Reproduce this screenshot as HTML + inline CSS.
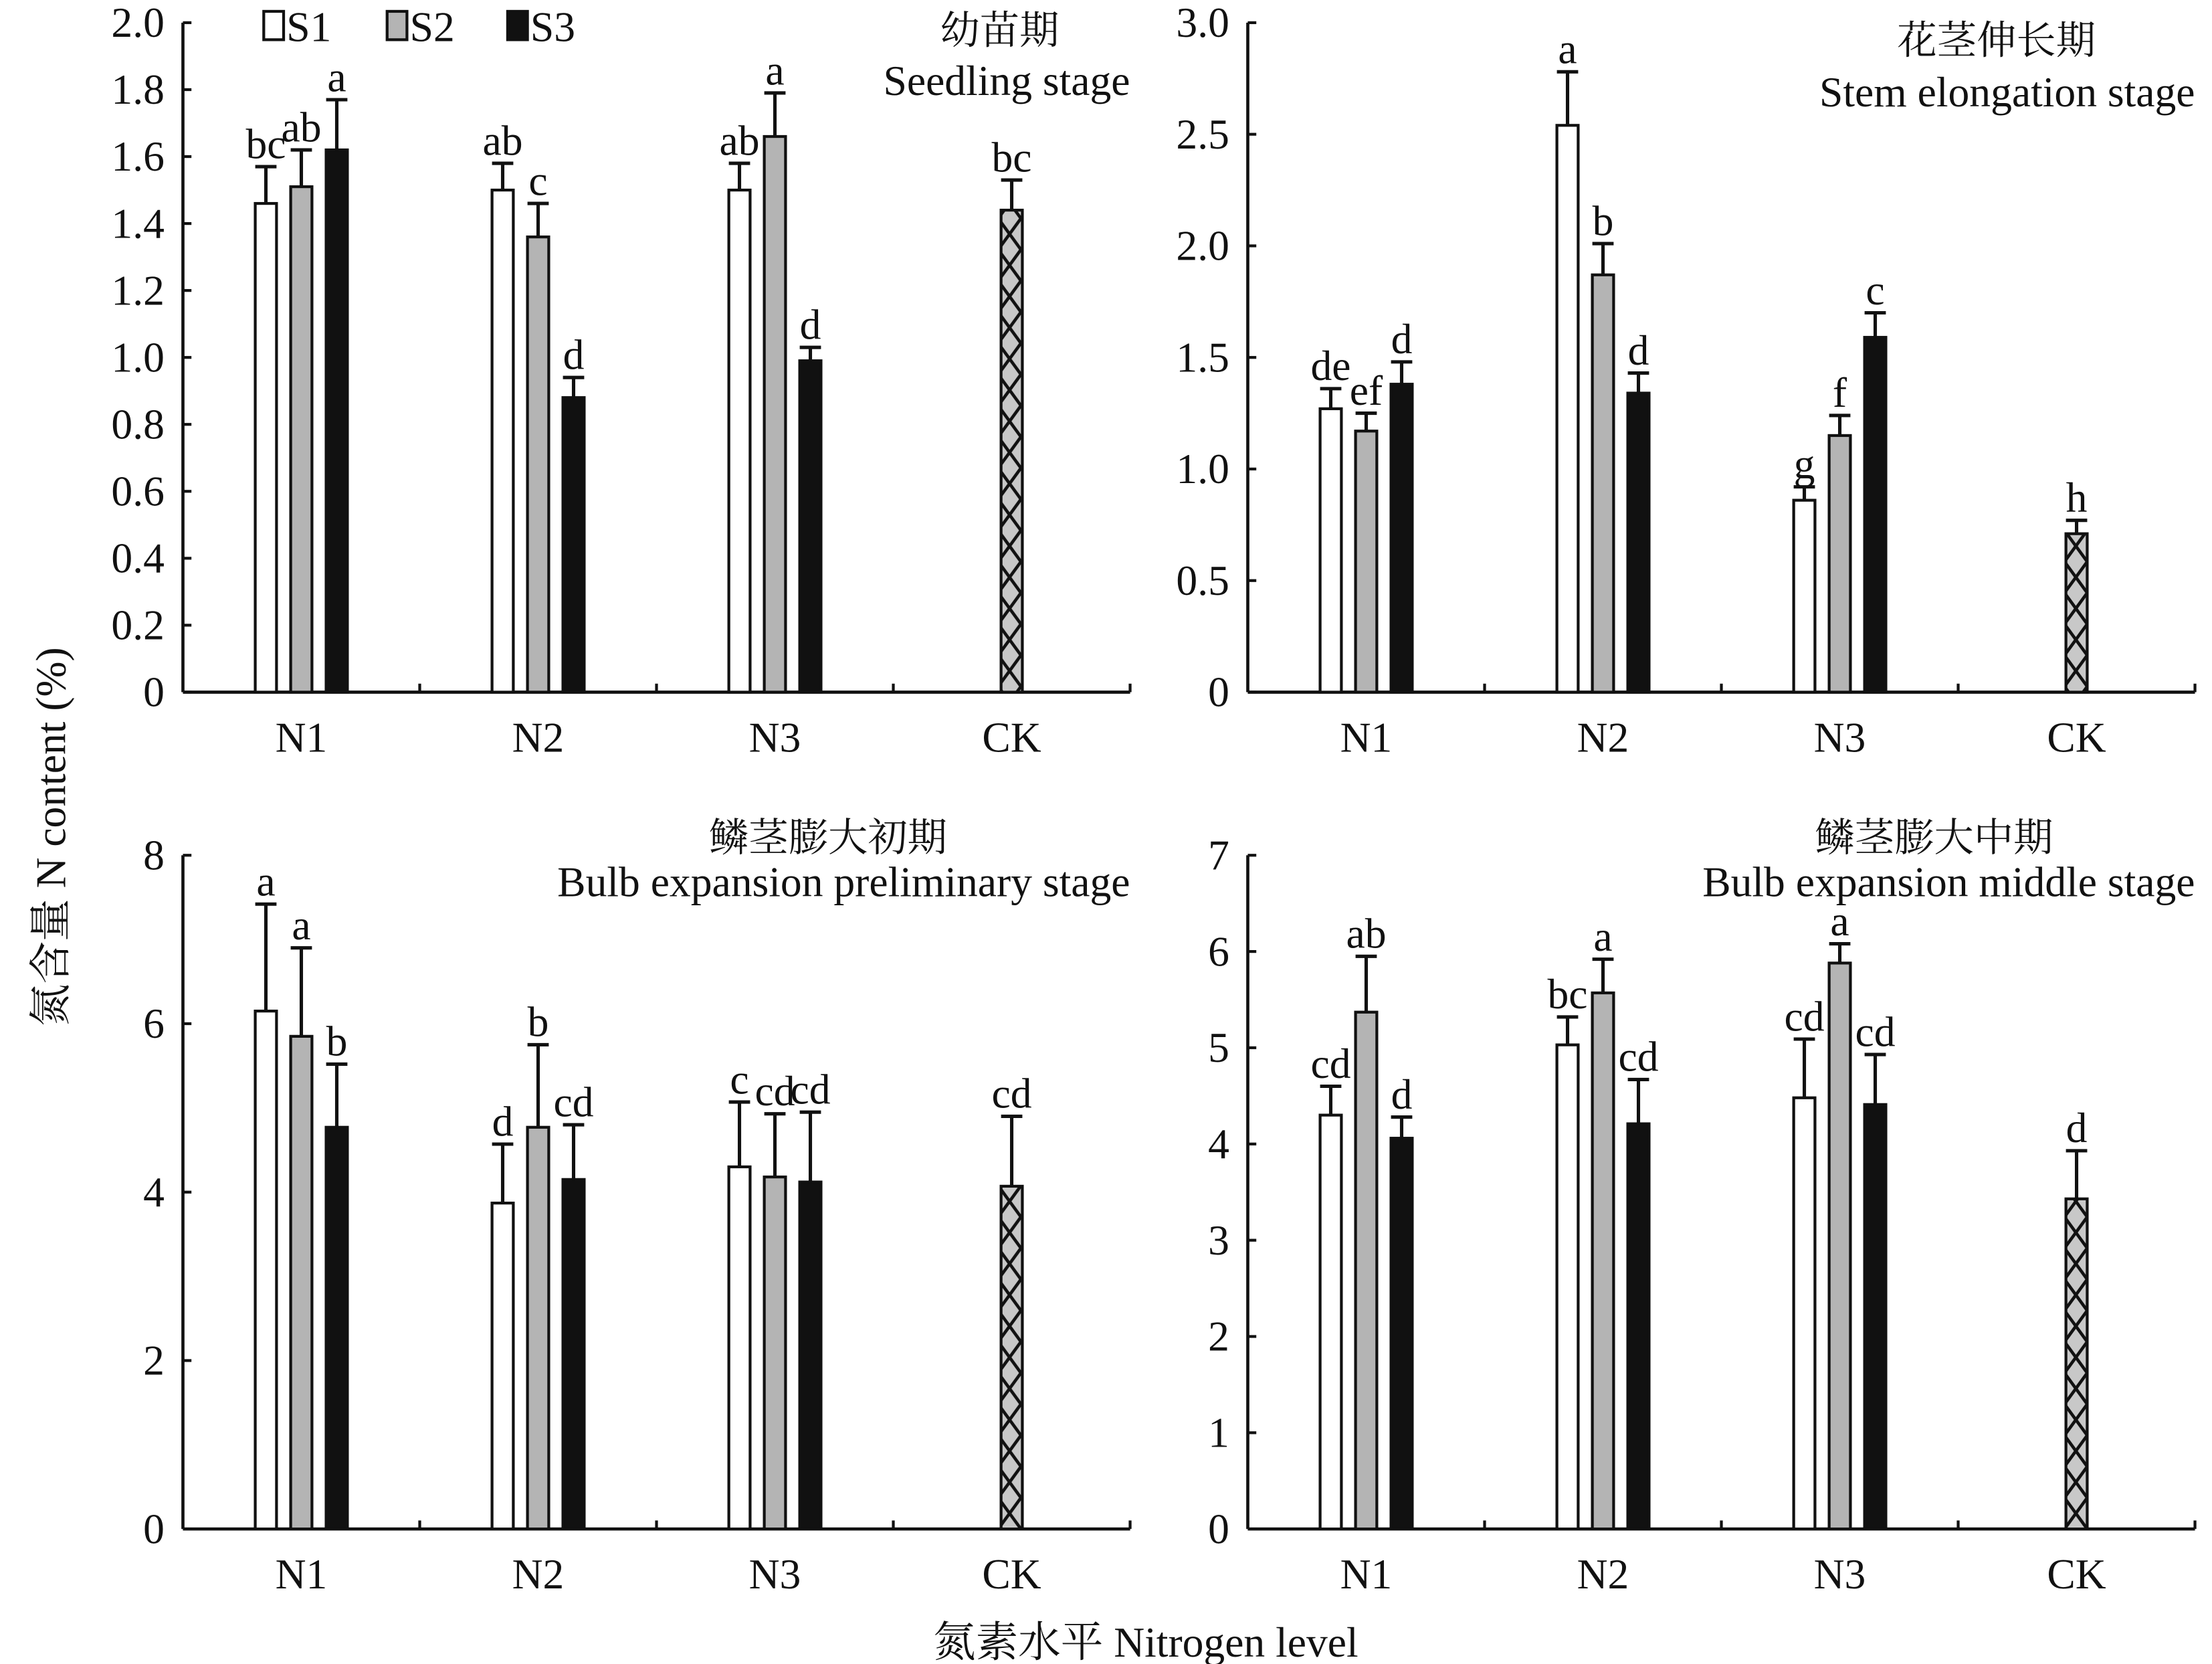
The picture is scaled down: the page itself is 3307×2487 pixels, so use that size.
<!DOCTYPE html>
<html><head><meta charset="utf-8"><style>
html,body{margin:0;padding:0;background:#fff}
svg{display:block}
text{font-family:"Liberation Serif","Noto Serif CJK SC",serif;fill:#111}
</style></head><body>
<svg id="fig" xmlns="http://www.w3.org/2000/svg" width="3307" height="2487" viewBox="0 0 1560 1173.2" font-family="Liberation Serif, Noto Serif CJK SC, serif">
<defs>
<pattern id="xhatch" patternUnits="userSpaceOnUse" width="16" height="22">
<rect width="16" height="22" fill="#c8c8c8"/>
<path d="M0,0 L16,22 M16,0 L0,22" stroke="#111" stroke-width="2.2"/>
</pattern>
</defs>
</svg>
<script>
const categories = ["N1","N2","N3","CK"];
const seriesNames = ["S1","S2","S3"];
// panel A: seedling
const aMeans = [[1.46,1.51,1.62],[1.50,1.36,0.88],[1.50,1.66,0.99],[1.44]];
const aErr   = [[0.11,0.11,0.15],[0.08,0.10,0.06],[0.08,0.13,0.04],[0.09]];
const aSig   = [["bc","ab","a"],["ab","c","d"],["ab","a","d"],["bc"]];
const aTicks = ["0","0.2","0.4","0.6","0.8","1.0","1.2","1.4","1.6","1.8","2.0"];
// panel B: stem elongation
const bMeans = [[1.27,1.17,1.38],[2.54,1.87,1.34],[0.86,1.15,1.59],[0.71]];
const bErr   = [[0.09,0.08,0.10],[0.24,0.14,0.09],[0.06,0.09,0.11],[0.06]];
const bSig   = [["de","ef","d"],["a","b","d"],["g","f","c"],["h"]];
const bTicks = ["0","0.5","1.0","1.5","2.0","2.5","3.0"];
// panel C: bulb expansion preliminary
const cMeans = [[6.15,5.85,4.77],[3.87,4.77,4.15],[4.30,4.18,4.12],[4.07]];
const cErr   = [[1.27,1.05,0.75],[0.70,0.98,0.65],[0.77,0.75,0.83],[0.83]];
const cSig   = [["a","a","b"],["d","b","cd"],["c","cd","cd"],["cd"]];
const cTicks = ["0","2","4","6","8"];
// panel D: bulb expansion middle
const dMeans = [[4.30,5.37,4.06],[5.03,5.57,4.21],[4.48,5.88,4.41],[3.43]];
const dErr   = [[0.30,0.58,0.22],[0.29,0.35,0.46],[0.61,0.20,0.52],[0.50]];
const dSig   = [["cd","ab","d"],["bc","a","cd"],["cd","a","cd"],["d"]];
const dTicks = ["0","1","2","3","4","5","6","7"];

const NS="http://www.w3.org/2000/svg";
const svg=document.getElementById('fig');
const FF='"Liberation Serif","Noto Serif CJK SC",serif';
function mk(tag,attrs,parent){const e=document.createElementNS(NS,tag);for(const k in attrs)e.setAttribute(k,attrs[k]);(parent||svg).appendChild(e);return e;}
function txt(s,attrs,parent){const e=mk('text',attrs,parent);e.style.fontFamily=FF;e.textContent=s;return e;}

function panel(name,x0,x1,yTop,yBot,ticks,means,errs,sigs,cn,en,cnX,cnY,enY){
  const g=mk('g',{});
  
  
  const yMax=parseFloat(ticks[ticks.length-1]);
  const ys=v=>yBot-(v/yMax)*(yBot-yTop);
  const cw=(x1-x0)/categories.length;
  const xc=i=>x0+cw*(i+0.5);
  const ya=mk('line',{x1:x0,y1:yTop,x2:x0,y2:yBot,stroke:'#111','stroke-width':2.2},g);
  
  const xa=mk('line',{x1:x0,y1:yBot,x2:x1,y2:yBot,stroke:'#111','stroke-width':2.2},g);
  
  ticks.forEach(t=>{const y=ys(parseFloat(t));
    mk('line',{x1:x0,y1:y,x2:x0+6,y2:y,stroke:'#111','stroke-width':2},g);
    const l=txt(t,{x:x0-13,y:y+10,'text-anchor':'end','font-size':30},g);
    
  });
  for(let i=1;i<=categories.length;i++){const x=x0+cw*i;mk('line',{x1:x,y1:yBot,x2:x,y2:yBot-6,stroke:'#111','stroke-width':2},g);}
  categories.forEach((c,i)=>{const l=txt(c,{x:xc(i),y:yBot+42,'text-anchor':'middle','font-size':30},g);
    });
  const fills=['#fff','#b4b4b4','#111'];
  const bw=15, sp=25;
  means.forEach((arr,i)=>{
    arr.forEach((v,j)=>{
      const cx = arr.length===1? xc(i) : xc(i)+(j-1)*sp;
      const fill = arr.length===1? 'url(#xhatch)' : fills[j];
      const yv=ys(v), ye=ys(v+errs[i][j]);
      const b=mk('rect',{x:cx-bw/2,y:yv,width:bw,height:yBot-yv,fill:fill,stroke:'#111','stroke-width':2},g);
      
      
      const e=mk('path',{d:`M${cx},${yv} L${cx},${ye} M${cx-bw/2},${ye} L${cx+bw/2},${ye}`,stroke:'#111','stroke-width':2.4,fill:'none'},g);
      
      const s=txt(sigs[i][j],{x:cx,y:ye-6,'text-anchor':'middle','font-size':30},g);
      
    });
  });
  const t1=txt(cn,{x:cnX,y:cnY,'text-anchor':'middle','font-size':28},g);
  
  const t2=txt(en,{x:x1,y:enY,'text-anchor':'end','font-size':30},g);
  
  return g;
}
panel('panel-seedling',129,797,16,488,aTicks,aMeans,aErr,aSig,'幼苗期','Seedling stage',705,31,67);
panel('panel-stem-elongation',880,1548,16,488,bTicks,bMeans,bErr,bSig,'花茎伸长期','Stem elongation stage',1408,38,75);
panel('panel-bulb-preliminary',129,797,603,1078,cTicks,cMeans,cErr,cSig,'鳞茎膨大初期','Bulb expansion preliminary stage',584,600,632);
panel('panel-bulb-middle',880,1548,603,1078,dTicks,dMeans,dErr,dSig,'鳞茎膨大中期','Bulb expansion middle stage',1364,600,632);
const lg=mk('g',{});


const lfills=['#fff','#b4b4b4','#111'];
const lx=[186,273,358];
seriesNames.forEach((s,j)=>{
  const r=mk('rect',{x:lx[j],y:8,width:14,height:20,fill:lfills[j],stroke:'#111','stroke-width':2},lg);
  
  const t=txt(s,{x:lx[j]+16,y:29,'font-size':30},lg);
  
});
const yt=txt('氮含量 N content (%)',{x:0,y:0,'text-anchor':'middle','font-size':30,transform:'translate(46,590) rotate(-90)'});

const xt=txt('氮素水平 Nitrogen level',{x:808,y:1168,'text-anchor':'middle','font-size':30});

</script>
</body></html>
